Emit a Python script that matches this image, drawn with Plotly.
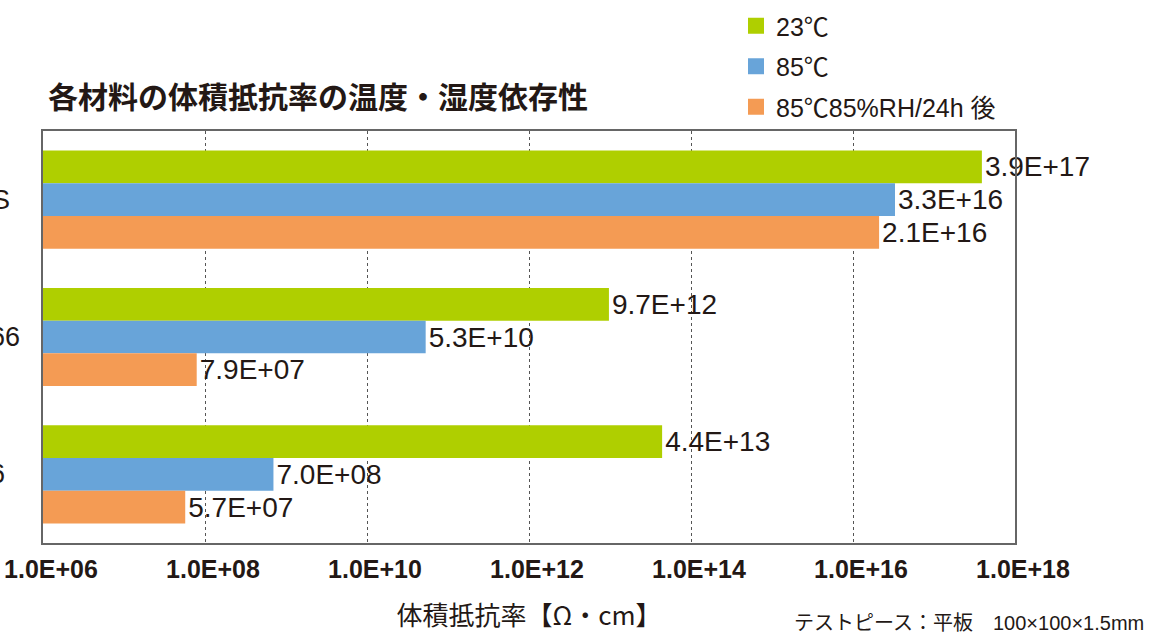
import plotly.graph_objects as go

# ---- data ----
materials = ["PPS", "PA66", "PA6"]
series_names = ["23℃", "85℃", "85℃85%RH/24h 後"]
vals_23c = [3.9e17, 9.7e12, 4.4e13]
vals_85c = [3.3e16, 5.3e10, 7.0e8]
vals_85rh = [2.1e16, 7.9e7, 5.7e7]
tick_exponents = [6, 8, 10, 12, 14, 16, 18]

title_text = "各材料の体積抵抗率の温度・湿度依存性"
x_title = "体積抵抗率【Ω・cm】"
note_text = "テストピース：平板　"
note_size = "100×100×1.5mm"

colors = ["#afcf00", "#68a4d9", "#f49b54"]
txt = "#231815"
latin = "Liberation Sans, Arial, Noto Sans CJK JP"
cjk = "Noto Sans CJK JP, Liberation Sans"

L, R, T, B = 43, 155, 131, 89
W, H = 1170, 632
pw, ph = W - L - R, H - T - B

fig = go.Figure()
for name, vals, col in zip(series_names, [vals_23c, vals_85c, vals_85rh], colors):
    fig.add_trace(go.Bar(
        y=materials, x=vals, orientation="h", name=name,
        marker=dict(color=col, line=dict(width=0)),
        text=[f"{v:.1E}" for v in vals], textposition="outside",
        textfont=dict(family=latin, size=28, color=txt),
        constraintext="none", cliponaxis=False, showlegend=False,
    ))
# legend entries
for i, (name, col) in enumerate(zip(series_names, colors)):
    fig.add_trace(go.Scatter(
        x=[None], y=[None], mode="markers", name=name, legendgroup=f"g{i}",
        marker=dict(symbol="square", size=16, color=col),
    ))

tickvals = [10 ** e for e in tick_exponents]
ticktext = [f"{v:.1E}" for v in tickvals]

fig.update_layout(
    width=W, height=H, margin=dict(l=L, r=R, t=T, b=B, autoexpand=False),
    paper_bgcolor="white", plot_bgcolor="white",
    barmode="group", bargap=0.285, bargroupgap=0,
    title=dict(text=title_text, x=48 / W, xanchor="left", y=1 - 97 / H, yanchor="middle",
               font=dict(family=cjk, size=30, color=txt, weight="bold")),
    legend=dict(x=(736 - L) / pw, xanchor="left", y=(H - B - 3) / ph, yanchor="top",
                font=dict(family=latin, size=25, color=txt), bgcolor="rgba(0,0,0,0)",
                tracegroupgap=5, itemclick=False),
    xaxis=dict(type="log", range=[tick_exponents[0], tick_exponents[-1]],
               tickvals=tickvals, ticktext=ticktext, ticks="", automargin=False,
               tickfont=dict(family=latin, size=25, color=txt, weight="bold"),
               ticklabelshift=8, ticklabelstandoff=3,
               showgrid=True, gridcolor="#555555", gridwidth=1, griddash="3px,3px",
               showline=True, linecolor="#666666", linewidth=1.5, mirror=True,
               zeroline=False,
               title=dict(text=x_title, font=dict(family=cjk, size=26, color=txt), standoff=45)),
    yaxis=dict(type="category", categoryorder="array", categoryarray=materials,
               autorange="reversed", showticklabels=False, ticks="", automargin=False,
               showgrid=False, showline=True, linecolor="#666666", linewidth=1.5,
               mirror=True, zeroline=False),
)

# category labels (left-aligned, cut at the page edge as in the source)
for m in materials:
    fig.add_annotation(x=(-46 - L) / pw, xref="paper", xanchor="left", y=m, yref="y",
                       text=m, showarrow=False,
                       font=dict(family=latin, size=27, color=txt))

fig.add_annotation(
    x=(792 - L) / pw, xref="paper", xanchor="left", y=(H - B - 621) / ph, yref="paper",
    yanchor="middle", showarrow=False,
    text=(f"<span style='font-size:20px'>{note_text}</span>"
          f"<span style='font-family:Liberation Sans, Arial;font-size:20px'>{note_size}</span>"),
    font=dict(family=cjk, size=20, color=txt),
)

fig.write_html("out.html", config={"displayModeBar": False},
               post_script="document.body.style.margin='0';document.body.style.overflow='hidden';")
